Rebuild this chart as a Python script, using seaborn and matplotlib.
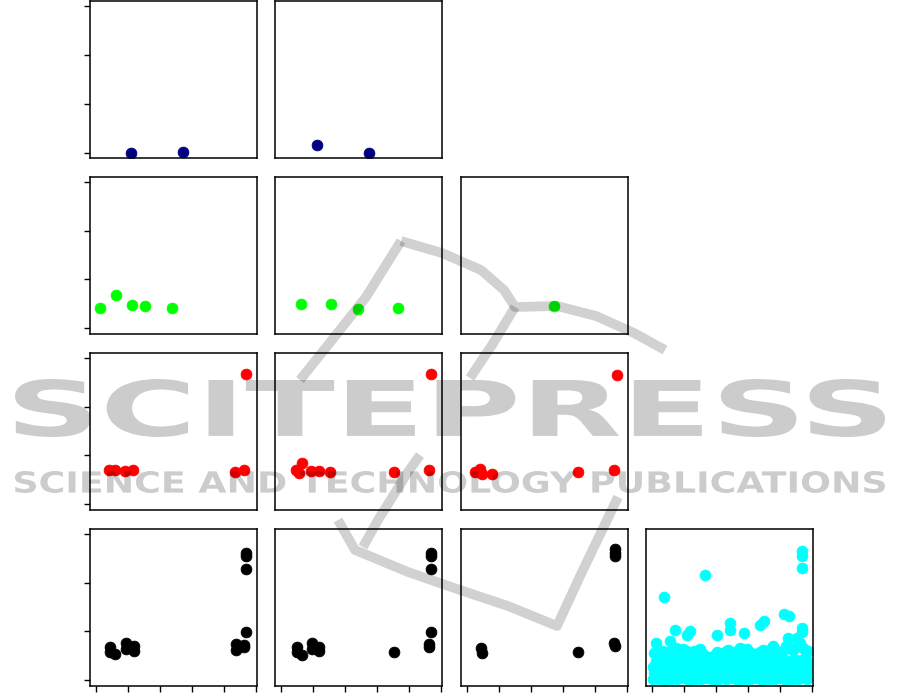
import matplotlib
matplotlib.use('Agg')
import matplotlib.pyplot as plt
import seaborn as sns
from matplotlib import patheffects
from matplotlib.lines import Line2D
from matplotlib.transforms import Affine2D
from matplotlib.textpath import TextPath
from matplotlib.font_manager import FontProperties

# --- values (x in 0..5, y in 0..3) ---
navy_a_x = [1.07, 2.72]
navy_a_y = [0.00, 0.02]
navy_b_x = [1.10, 2.75]
navy_b_y = [0.16, 0.00]

green_a_x = [0.11, 0.60, 1.13, 1.52, 2.36]
green_a_y = [0.42, 0.67, 0.48, 0.46, 0.42]
green_b_x = [0.62, 1.55, 2.40, 3.66]
green_b_y = [0.49, 0.49, 0.40, 0.42]
green_c_x = [2.72]
green_c_y = [0.45]

red_a_x = [0.41, 0.59, 0.91, 1.16, 4.35, 4.62, 4.68]
red_a_y = [0.70, 0.70, 0.68, 0.70, 0.66, 0.70, 2.66]
red_b_x = [0.47, 0.55, 0.63, 0.93, 1.19, 1.52, 3.53, 4.63, 4.69]
red_b_y = [0.70, 0.64, 0.85, 0.68, 0.68, 0.65, 0.66, 0.69, 2.66]
red_c_x = [0.25, 0.42, 0.48, 0.79, 3.49, 4.60, 4.69]
red_c_y = [0.65, 0.72, 0.62, 0.62, 0.66, 0.69, 2.64]

black_a_x = [0.44, 0.44, 0.59, 0.92, 0.92, 1.17, 1.17, 4.36, 4.36, 4.63, 4.63,
             4.69, 4.69, 4.69, 4.69]
black_a_y = [0.67, 0.58, 0.53, 0.77, 0.63, 0.70, 0.60, 0.75, 0.61, 0.73, 0.68,
             0.98, 2.28, 2.54, 2.61]
black_b_x = [0.48, 0.48, 0.64, 0.95, 0.95, 1.19, 1.19, 3.52, 4.62, 4.62, 4.68,
             4.68, 4.68, 4.68]
black_b_y = [0.67, 0.57, 0.51, 0.77, 0.63, 0.68, 0.59, 0.57, 0.75, 0.68, 0.98,
             2.28, 2.54, 2.61]
black_c_x = [0.44, 0.47, 3.48, 4.62, 4.65, 4.65, 4.65, 4.65]
black_c_y = [0.66, 0.55, 0.57, 0.77, 0.70, 2.68, 2.61, 2.54]

# cyan cloud: bulk rows plus the scattered points above them
cyan_row1_x = [0.02, 0.20, 0.39, 0.58, 0.77, 0.96, 1.15, 1.34, 1.53, 1.72, 1.91,
               2.10, 2.29, 2.48, 2.67, 2.86, 3.05, 3.24, 3.43, 3.62, 3.81, 4.00,
               4.19, 4.38, 4.57, 4.76, 4.84]
cyan_row1_y = [0.02, 0.03, 0.01, 0.03, 0.02, 0.04, 0.01, 0.03, 0.02, 0.04, 0.01,
               0.03, 0.02, 0.04, 0.01, 0.03, 0.02, 0.04, 0.01, 0.03, 0.02, 0.04,
               0.01, 0.03, 0.02, 0.04, 0.03]
cyan_row2_x = [0.05, 0.27, 0.48, 0.68, 0.88, 1.07, 1.27, 1.46, 1.66, 1.85, 2.04,
               2.24, 2.43, 2.62, 2.82, 3.01, 3.20, 3.40, 3.59, 3.78, 3.98, 4.17,
               4.37, 4.56, 4.75, 4.84]
cyan_row2_y = [0.15, 0.13, 0.16, 0.12, 0.14, 0.17, 0.13, 0.15, 0.12, 0.16, 0.14,
               0.13, 0.17, 0.14, 0.12, 0.15, 0.16, 0.13, 0.14, 0.17, 0.12, 0.15,
               0.14, 0.16, 0.13, 0.15]
cyan_row3_x = [0.03, 0.22, 0.42, 0.61, 0.80, 1.00, 1.19, 1.38, 1.58, 1.77, 1.96,
               2.15, 2.35, 2.54, 2.73, 2.92, 3.12, 3.31, 3.50, 3.69, 3.88, 4.08,
               4.27, 4.46, 4.65, 4.83]
cyan_row3_y = [0.27, 0.25, 0.28, 0.26, 0.27, 0.29, 0.25, 0.28, 0.26, 0.25, 0.28,
               0.27, 0.26, 0.29, 0.25, 0.28, 0.27, 0.25, 0.28, 0.26, 0.28, 0.25,
               0.29, 0.27, 0.26, 0.28]
cyan_row4_x = [0.10, 0.31, 0.49, 0.71, 0.90, 1.10, 1.31, 1.50, 1.69, 1.90, 2.11,
               2.30, 2.49, 2.70, 2.91, 3.10, 3.29, 3.50, 3.71, 3.90, 4.09, 4.30,
               4.51, 4.70, 4.83]
cyan_row4_y = [0.40, 0.42, 0.39, 0.41, 0.40, 0.38, 0.42, 0.40, 0.37, 0.36, 0.41,
               0.40, 0.39, 0.42, 0.40, 0.38, 0.39, 0.41, 0.40, 0.39, 0.41, 0.40,
               0.42, 0.41, 0.39]
cyan_top_x = [0.04, 0.12, 0.21, 0.30, 0.45, 0.56, 0.66, 0.75, 0.85, 0.95, 1.05,
              1.15, 1.30, 1.40, 1.48, 1.60, 1.70, 1.85, 1.95, 2.02, 2.20, 2.28,
              2.37, 2.46, 2.55, 2.64, 2.74, 2.85, 2.95, 3.03, 3.10, 3.18, 3.26,
              3.37, 3.47, 3.55, 3.62, 3.70, 3.78, 3.88, 4.00, 4.10, 4.20, 4.25,
              4.33, 4.40, 4.52, 4.62, 4.71, 4.80]
cyan_top_y = [0.55, 0.77, 0.57, 0.59, 0.58, 0.80, 0.60, 0.66, 0.58, 0.64, 0.59,
              0.57, 0.60, 0.57, 0.63, 0.54, 0.48, 0.48, 0.52, 0.58, 0.52, 0.57,
              0.61, 0.55, 0.55, 0.60, 0.66, 0.62, 0.63, 0.57, 0.55, 0.52, 0.53,
              0.58, 0.61, 0.55, 0.57, 0.64, 0.70, 0.60, 0.53, 0.60, 0.70, 0.87,
              0.66, 0.62, 0.87, 0.77, 0.66, 0.58]
cyan_out_x = [0.35, 1.64, 4.70, 4.70, 4.70, 4.12, 4.29, 4.70, 4.70, 0.71, 1.19,
              1.09, 2.03, 2.42, 2.42, 2.87, 3.37, 3.50, 4.88]
cyan_out_y = [1.71, 2.15, 2.64, 2.54, 2.29, 1.35, 1.32, 1.07, 0.99, 1.02, 1.00,
              0.92, 0.92, 1.18, 1.03, 0.97, 1.13, 1.21, 0.59]

cyan_x = cyan_row1_x + cyan_row2_x + cyan_row3_x + cyan_row4_x + cyan_top_x + cyan_out_x
cyan_y = cyan_row1_y + cyan_row2_y + cyan_row3_y + cyan_row4_y + cyan_top_y + cyan_out_y

x_ticks = [0, 1, 2, 3, 4, 5]
y_ticks = [0, 1, 2, 3]

# (row, col, x, y, colour)
panels = [
    (0, 0, navy_a_x, navy_a_y, '#000080'),
    (0, 1, navy_b_x, navy_b_y, '#000080'),
    (1, 0, green_a_x, green_a_y, '#00ff00'),
    (1, 1, green_b_x, green_b_y, '#00ff00'),
    (1, 2, green_c_x, green_c_y, '#00ff00'),
    (2, 0, red_a_x, red_a_y, '#ff0000'),
    (2, 1, red_b_x, red_b_y, '#ff0000'),
    (2, 2, red_c_x, red_c_y, '#ff0000'),
    (3, 0, black_a_x, black_a_y, '#000000'),
    (3, 1, black_b_x, black_b_y, '#000000'),
    (3, 2, black_c_x, black_c_y, '#000000'),
    (3, 3, cyan_x, cyan_y, '#00ffff'),
]

sns.set_style('ticks')
plt.rcParams.update({
    'axes.linewidth': 1.1,
    'axes.edgecolor': 'black',
    'xtick.major.size': 4.3,
    'ytick.major.size': 4.3,
    'xtick.major.width': 1.0,
    'ytick.major.width': 1.0,
    'xtick.color': 'black',
    'ytick.color': 'black',
})

W, H = 901, 695
fig = plt.figure(figsize=(W / 100, H / 100), dpi=100)

col_left = [90, 275, 460.5, 646]
row_top = [1, 176.5, 352.5, 528.5]
pw, ph = 167, 157

for r, c, xs, ys, colour in panels:
    ax = fig.add_axes([col_left[c] / W, 1 - (row_top[r] + ph) / H, pw / W, ph / H])
    sns.scatterplot(x=xs, y=ys, ax=ax, color=colour, s=60,
                    edgecolor=colour, linewidth=0.6)
    ax.set_xlim(-0.2, 5.03)
    ax.set_ylim(-0.11, 3.11)
    ax.set_xticks(x_ticks if r == 3 else [])
    ax.set_yticks(y_ticks if c == 0 else [])
    ax.set_xticklabels([])
    ax.set_yticklabels([])
    ax.set_xlabel('')
    ax.set_ylabel('')
    for sp in ax.spines.values():
        sp.set_visible(True)


# ---- publisher watermark laid over the plots (not data) ----
class Stretch(patheffects.AbstractPathEffect):
    def __init__(self, sx):
        super().__init__()
        self.sx = sx

    def draw_path(self, renderer, gc, tpath, affine, rgbFace=None):
        renderer.draw_path(gc, tpath, Affine2D().scale(self.sx, 1) + affine, rgbFace)


def watermark(s, left, top, right, bottom):
    px = 100 / 72
    ext = TextPath((0, 0), s, prop=FontProperties(family='DejaVu Sans',
                                                  weight='bold', size=100)).get_extents()
    fs = 100 * (bottom - top) / (ext.height * px)
    k = fs / 100 * px
    sx = (right - left) / (ext.width * k)
    x0 = left - sx * ext.x0 * k
    base = bottom + ext.y0 * k
    fig.text(x0 / W, 1 - base / H, s, fontsize=fs, fontweight='bold',
             family='DejaVu Sans', color='black', alpha=0.2,
             ha='left', va='baseline', zorder=10, path_effects=[Stretch(sx)])


watermark('SCITEPRESS', 15, 379, 885, 437)
watermark('SCIENCE AND TECHNOLOGY PUBLICATIONS', 15, 471, 885, 493)

# logo strokes, in pixels from the top-left corner
logo_strokes = [
    [(401, 241), (442, 253), (481, 270), (504, 290), (515, 307), (557, 306),
     (596, 316), (634, 333), (665, 350)],
    [(401, 241), (366, 297), (328, 345), (300, 380)],
    [(515, 307), (492, 345), (470, 378)],
    [(420, 455), (408, 472), (378, 520), (363, 547)],
    [(338, 520), (355, 550), (408, 572), (460, 590), (508, 606), (557, 626),
     (582, 572), (607, 520), (618, 497)],
]
for stroke in logo_strokes:
    fig.add_artist(Line2D([p[0] / W for p in stroke], [1 - p[1] / H for p in stroke],
                          transform=fig.transFigure, color='black', alpha=0.18,
                          lw=7, solid_joinstyle='round', solid_capstyle='butt',
                          zorder=9))

fig.savefig('out.png', dpi=100)
